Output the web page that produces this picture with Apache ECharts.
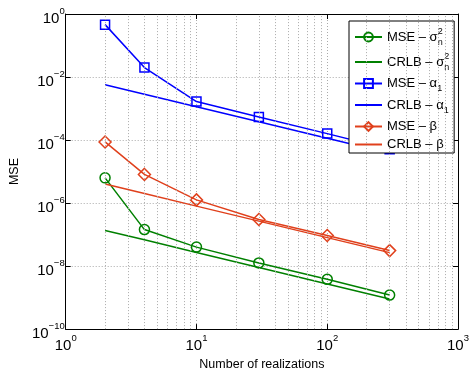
<!DOCTYPE html>
<html><head><meta charset="utf-8">
<script src="https://cdn.jsdelivr.net/npm/echarts@6/dist/echarts.min.js"></script>
<style>html,body{margin:0;padding:0;background:#fff}#c{width:472px;height:376px}</style>
</head><body><div id="c"></div>
<script>
const realizations = [2, 4, 10, 30, 100, 300];
const mseSigma  = [6.3e-6, 1.44e-7, 4.0e-8, 1.26e-8, 3.8e-9, 1.2e-9];
const crlbSigma = [1.35e-7, 6.8e-8, 2.7e-8, 9.0e-9, 2.7e-9, 9.0e-10];
const mseAlpha  = [0.46, 0.02, 1.66e-3, 5.4e-4, 1.6e-4, 5.1e-5];
const crlbAlpha = [5.7e-3, 2.85e-3, 1.14e-3, 3.8e-4, 1.14e-4, 3.8e-5];
const mseBeta   = [8.7e-5, 8.1e-6, 1.26e-6, 3.0e-7, 9.3e-8, 3.1e-8];
const crlbBeta  = [4.0e-6, 2.0e-6, 8.0e-7, 2.67e-7, 8.0e-8, 2.67e-8];
const xMinorGrid = [2,3,4,5,6,7,8,9,20,30,40,50,60,70,80,90,200,300,400,500,600,700,800,900];
const seriesNames = ['MSE – σn2', 'CRLB – σn2', 'MSE – α1', 'CRLB – α1', 'MSE – β', 'CRLB – β'];
const legendLabels = {
  'MSE – σn2': '{t|MSE – σ}{sp|2}{sb|n}',
  'CRLB – σn2': '{t|CRLB – σ}{sp|2}{sb|n}',
  'MSE – α1': '{t|MSE – α}{sb|1}',
  'CRLB – α1': '{t|CRLB – α}{sb|1}',
  'MSE – β': '{t|MSE – β}',
  'CRLB – β': '{t|CRLB – β}'
};
const GREEN = '#008000', BLUE = '#0000ff', RED = '#e0401c';
const FONT = 'Liberation Sans, Arial, Helvetica, sans-serif';

function pairs(vals){ return realizations.map((x,i)=>[x, vals[i]]); }
function expLabel(v){
  const e = Math.round(Math.log10(v));
  return '{b|10}{s|' + (e < 0 ? '−' + (-e) : e) + '}';
}
const tickRich = {
  b: {fontSize: 15, fontFamily: FONT, color: '#000', verticalAlign: 'bottom', lineHeight: 20},
  s: {fontSize: 9.5, fontFamily: FONT, color: '#000', verticalAlign: 'top', lineHeight: 10}
};
function mse(name, vals, color, symbol, size){
  return {
    name, type: 'line', data: pairs(vals), symbol, symbolSize: size,
    showSymbol: true, animation: false,
    lineStyle: {color, width: 1.5},
    itemStyle: {color: 'transparent', borderColor: color, borderWidth: 1.5},
    z: 3
  };
}
function crlb(name, vals, color){
  return {
    name, type: 'line', data: pairs(vals), symbol: 'none', showSymbol: false,
    animation: false, lineStyle: {color, width: 1.5}, itemStyle: {color}, z: 3
  };
}
const legendData = seriesNames.map(n => n.startsWith('CRLB')
  ? {name: n, itemStyle: {opacity: 0}}
  : {name: n});
const chart = echarts.init(document.getElementById('c'), null, {renderer: 'canvas'});
chart.setOption({
  animation: false,
  backgroundColor: '#fff',
  grid: {left: 64, top: 14, width: 399, height: 324, containLabel: false},
  xAxis: [{
    type: 'log', logBase: 10, min: 1, max: 1000, position: 'bottom',
    name: 'Number of realizations', nameLocation: 'middle', nameGap: 23,
    nameTextStyle: {fontSize: 12.5, fontFamily: FONT, color: '#000'},
    axisLine: {show: true, lineStyle: {color: '#000', width: 1}},
    axisTick: {show: true, inside: true, length: 5, lineStyle: {color: '#000'}},
    axisLabel: {formatter: expLabel, rich: tickRich, margin: 4},
    splitLine: {show: true, lineStyle: {color: '#aaa', type: [1, 2], width: 1}}
  }, {
    type: 'log', logBase: 10, min: 1, max: 1000, position: 'top',
    axisLine: {show: true, lineStyle: {color: '#000', width: 1}},
    axisTick: {show: true, inside: true, length: 5, lineStyle: {color: '#000'}},
    axisLabel: {show: false}, splitLine: {show: false}
  }],
  yAxis: [{
    type: 'log', logBase: 10, min: 1e-10, max: 1, interval: 2, position: 'left',
    name: 'MSE', nameLocation: 'middle', nameGap: 33,
    nameTextStyle: {fontSize: 12.5, fontFamily: FONT, color: '#000'},
    axisLine: {show: true, lineStyle: {color: '#000', width: 1}},
    axisTick: {show: true, inside: true, length: 5, lineStyle: {color: '#000'}},
    axisLabel: {formatter: expLabel, rich: tickRich, margin: 1, padding: [4, 0, 0, 0]},
    splitLine: {show: true, lineStyle: {color: '#aaa', type: [1, 2], width: 1}}
  }, {
    type: 'log', logBase: 10, min: 1e-10, max: 1, interval: 2, position: 'right',
    axisLine: {show: true, lineStyle: {color: '#000', width: 1}},
    axisTick: {show: true, inside: true, length: 5, lineStyle: {color: '#000'}},
    axisLabel: {show: false}, splitLine: {show: false}
  }],
  legend: {
    data: legendData, orient: 'vertical', left: 349, top: 21,
    padding: [6, 5, 2, 5], itemGap: 5, itemWidth: 27, itemHeight: 11,
    backgroundColor: '#fff', borderColor: '#000', borderWidth: 1,
    formatter: n => legendLabels[n],
    textStyle: {
      color: '#000', fontFamily: FONT, fontSize: 13,
      rich: {
        t: {fontSize: 13, fontFamily: FONT, color: '#000', verticalAlign: 'middle', lineHeight: 20},
        sp: {fontSize: 9, fontFamily: FONT, color: '#000', verticalAlign: 'top', lineHeight: 10, width: 0},
        sb: {fontSize: 9, fontFamily: FONT, color: '#000', verticalAlign: 'bottom', lineHeight: 10}
      }
    }
  },
  series: [
    {
      name: 'grid-minor', type: 'line', data: [], silent: true, animation: false,
      markLine: {
        silent: true, symbol: 'none', animation: false,
        label: {show: false},
        lineStyle: {color: '#aaa', type: [1, 2], width: 1},
        data: xMinorGrid.map(v => ({xAxis: v}))
      }
    },
    mse(seriesNames[0], mseSigma, GREEN, 'circle', 10),
    crlb(seriesNames[1], crlbSigma, GREEN),
    mse(seriesNames[2], mseAlpha, BLUE, 'rect', 9),
    crlb(seriesNames[3], crlbAlpha, BLUE),
    mse(seriesNames[4], mseBeta, RED, 'diamond', 12),
    crlb(seriesNames[5], crlbBeta, RED)
  ]
});
</script></body></html>
